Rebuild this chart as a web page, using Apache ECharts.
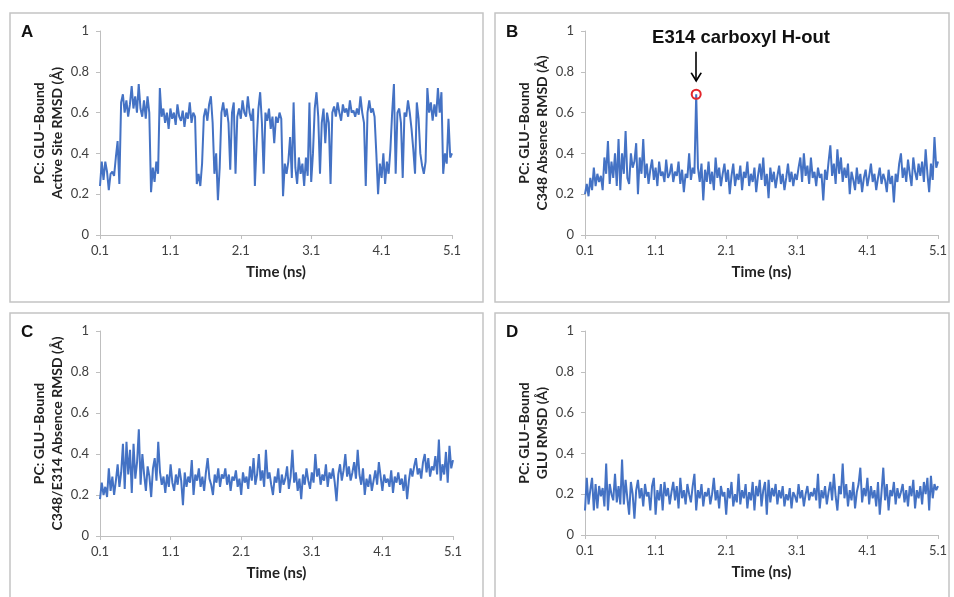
<!DOCTYPE html>
<html>
<head>
<meta charset="utf-8">
<script src="https://cdn.jsdelivr.net/npm/echarts@6/dist/echarts.min.js"></script>
<style>html,body{margin:0;padding:0;background:#fff}#c{width:954px;height:597px}</style>
</head>
<body>
<div id="c"></div>
<script>
// Time axis: 0.1 → 5.1 ns, sampled every 0.025 ns
const T_START = 0.1, T_STEP = 0.025;
const xTicks = [0.1, 1.1, 2.1, 3.1, 4.1, 5.1];
const yTicks = [0, 0.2, 0.4, 0.6, 0.8, 1];

const panelLetters = ['A', 'B', 'C', 'D'];
const yTitles = [
  'PC: GLU\u2013Bound\nActive Site RMSD (\u00C5)',
  'PC: GLU\u2013Bound\nC348 Absence RMSD (\u00C5)',
  'PC: GLU\u2013Bound\nC348/E314 Absence RMSD (\u00C5)',
  'PC: GLU\u2013Bound\nGLU RMSD (\u00C5)'
];
const xTitle = 'Time (ns)';

const rmsdA = [
 0.24,0.36,0.27,0.36,0.31,0.22,0.30,0.31,0.29,0.38,
 0.46,0.25,0.65,0.69,0.60,0.66,0.58,0.64,0.73,0.62,
 0.68,0.60,0.74,0.62,0.58,0.66,0.57,0.68,0.60,0.21,
 0.33,0.26,0.36,0.30,0.72,0.58,0.62,0.55,0.60,0.52,
 0.62,0.57,0.60,0.54,0.64,0.58,0.56,0.61,0.53,0.60,
 0.57,0.65,0.55,0.60,0.58,0.25,0.30,0.24,0.35,0.58,
 0.62,0.56,0.64,0.68,0.55,0.30,0.40,0.17,0.33,0.60,
 0.65,0.58,0.62,0.55,0.32,0.60,0.65,0.30,0.58,0.62,
 0.57,0.66,0.60,0.58,0.68,0.60,0.56,0.62,0.24,0.45,
 0.62,0.70,0.55,0.30,0.60,0.56,0.62,0.52,0.58,0.45,
 0.58,0.55,0.60,0.57,0.19,0.35,0.30,0.36,0.48,0.28,
 0.65,0.33,0.25,0.38,0.30,0.35,0.24,0.38,0.29,0.65,
 0.26,0.40,0.62,0.70,0.58,0.30,0.55,0.62,0.45,0.60,
 0.55,0.25,0.60,0.63,0.58,0.65,0.60,0.56,0.64,0.60,
 0.62,0.58,0.66,0.60,0.61,0.58,0.62,0.59,0.68,0.60,
 0.55,0.24,0.60,0.66,0.60,0.62,0.58,0.40,0.20,0.35,
 0.28,0.40,0.25,0.36,0.30,0.42,0.60,0.74,0.30,0.60,
 0.62,0.55,0.28,0.60,0.58,0.66,0.60,0.52,0.42,0.30,
 0.65,0.57,0.40,0.34,0.30,0.36,0.72,0.60,0.65,0.56,
 0.64,0.58,0.72,0.60,0.70,0.30,0.40,0.35,0.57,0.38,0.40
];
const rmsdB = [
 0.20,0.25,0.19,0.28,0.22,0.33,0.24,0.30,0.26,0.29,
 0.22,0.38,0.30,0.46,0.25,0.36,0.28,0.40,0.24,0.47,
 0.22,0.40,0.30,0.51,0.28,0.25,0.40,0.33,0.36,0.45,
 0.20,0.38,0.30,0.47,0.28,0.35,0.25,0.32,0.37,0.27,
 0.33,0.24,0.36,0.29,0.31,0.26,0.37,0.28,0.30,0.35,
 0.26,0.31,0.29,0.36,0.25,0.32,0.21,0.30,0.28,0.40,
 0.27,0.33,0.30,0.69,0.33,0.26,0.35,0.17,0.32,0.26,
 0.36,0.25,0.31,0.22,0.38,0.28,0.33,0.24,0.30,0.35,
 0.26,0.32,0.20,0.29,0.35,0.24,0.30,0.27,0.34,0.22,
 0.31,0.28,0.36,0.24,0.30,0.26,0.33,0.21,0.29,0.35,
 0.27,0.38,0.24,0.30,0.18,0.33,0.26,0.31,0.23,0.29,
 0.34,0.25,0.30,0.22,0.28,0.35,0.26,0.31,0.24,0.30,
 0.27,0.33,0.38,0.26,0.40,0.29,0.34,0.25,0.38,0.28,
 0.31,0.24,0.33,0.28,0.30,0.17,0.32,0.27,0.36,0.44,
 0.29,0.35,0.25,0.42,0.30,0.38,0.26,0.33,0.28,0.35,
 0.20,0.31,0.27,0.22,0.33,0.25,0.30,0.21,0.28,0.32,
 0.24,0.29,0.35,0.26,0.30,0.22,0.28,0.33,0.25,0.30,
 0.27,0.21,0.32,0.25,0.29,0.16,0.30,0.26,0.35,0.40,
 0.28,0.33,0.26,0.37,0.30,0.24,0.38,0.31,0.27,0.35,
 0.29,0.36,0.26,0.42,0.30,0.21,0.35,0.27,0.48,0.33,0.36
];
const rmsdC = [
 0.18,0.26,0.20,0.24,0.19,0.33,0.22,0.29,0.20,0.27,
 0.35,0.24,0.31,0.45,0.23,0.46,0.30,0.42,0.21,0.45,
 0.28,0.36,0.52,0.25,0.40,0.30,0.22,0.34,0.29,0.19,
 0.33,0.38,0.27,0.46,0.31,0.25,0.29,0.21,0.30,0.24,
 0.35,0.26,0.22,0.30,0.25,0.33,0.27,0.15,0.31,0.24,
 0.29,0.26,0.37,0.20,0.30,0.27,0.33,0.24,0.29,0.22,
 0.31,0.38,0.28,0.25,0.20,0.30,0.26,0.33,0.24,0.30,
 0.28,0.33,0.25,0.30,0.22,0.29,0.27,0.32,0.24,0.28,
 0.20,0.31,0.26,0.29,0.23,0.34,0.27,0.38,0.25,0.30,
 0.40,0.27,0.32,0.24,0.42,0.28,0.31,0.25,0.20,0.29,
 0.26,0.33,0.21,0.30,0.25,0.28,0.34,0.23,0.29,0.42,
 0.26,0.31,0.22,0.28,0.18,0.30,0.25,0.33,0.27,0.23,
 0.31,0.26,0.40,0.29,0.33,0.25,0.30,0.27,0.35,0.24,
 0.31,0.28,0.33,0.26,0.17,0.30,0.35,0.27,0.32,0.40,
 0.29,0.34,0.27,0.31,0.36,0.28,0.42,0.30,0.25,0.33,
 0.20,0.28,0.24,0.30,0.22,0.27,0.32,0.25,0.36,0.29,
 0.22,0.30,0.26,0.28,0.24,0.32,0.21,0.29,0.26,0.31,
 0.25,0.28,0.22,0.30,0.18,0.27,0.33,0.29,0.34,0.38,
 0.30,0.33,0.28,0.36,0.40,0.31,0.38,0.29,0.34,0.32,
 0.39,0.30,0.47,0.27,0.35,0.30,0.41,0.26,0.44,0.33,0.37
];
const rmsdD = [
 0.12,0.28,0.15,0.22,0.28,0.12,0.25,0.13,0.24,0.19,
 0.23,0.14,0.35,0.12,0.25,0.20,0.17,0.30,0.16,0.24,
 0.15,0.37,0.15,0.27,0.18,0.10,0.26,0.20,0.08,0.22,
 0.27,0.18,0.23,0.14,0.25,0.19,0.21,0.12,0.24,0.28,
 0.10,0.22,0.17,0.25,0.12,0.26,0.19,0.23,0.15,0.21,
 0.26,0.17,0.24,0.13,0.28,0.18,0.22,0.15,0.25,0.20,
 0.16,0.24,0.30,0.12,0.22,0.18,0.25,0.14,0.21,0.19,
 0.23,0.15,0.20,0.28,0.17,0.22,0.13,0.24,0.19,0.21,
 0.10,0.23,0.18,0.26,0.14,0.20,0.16,0.30,0.15,0.22,
 0.18,0.25,0.13,0.21,0.17,0.26,0.12,0.24,0.19,0.27,
 0.14,0.22,0.26,0.10,0.27,0.16,0.23,0.19,0.25,0.15,
 0.22,0.18,0.24,0.14,0.20,0.17,0.23,0.13,0.21,0.19,
 0.16,0.25,0.18,0.22,0.14,0.20,0.24,0.17,0.21,0.19,
 0.23,0.17,0.30,0.13,0.22,0.18,0.24,0.15,0.21,0.26,
 0.17,0.30,0.19,0.12,0.24,0.20,0.35,0.18,0.25,0.14,
 0.22,0.17,0.26,0.13,0.21,0.25,0.33,0.16,0.23,0.19,
 0.28,0.15,0.24,0.18,0.22,0.14,0.26,0.10,0.21,0.33,
 0.17,0.25,0.12,0.22,0.19,0.26,0.15,0.23,0.18,0.21,
 0.25,0.16,0.22,0.14,0.24,0.19,0.27,0.13,0.22,0.18,
 0.24,0.15,0.26,0.20,0.28,0.12,0.29,0.18,0.25,0.22,0.24
];

// Annotation (panel B)
const annotText = 'E314 carboxyl H-out';
const peakTime = 1.675, peakValue = 0.69;
const annotTextPos = [2.31, 0.964];
const arrowFrom = 0.898, arrowTo = 0.756;

const seriesValues = [rmsdA, rmsdB, rmsdC, rmsdD];
const toPairs = vals => vals.map((v, i) => [+(T_START + T_STEP * i).toFixed(3), v]);

const FONT = 'Lato, "Open Sans", sans-serif';
const LINE = '#4472C4';
const AXIS = '#bfbfbf';
const LABEL = '#404040';

const grids = [
  {left: 100, top: 31, width: 352, height: 204},
  {left: 585, top: 31, width: 353, height: 204},
  {left: 100, top: 331, width: 353, height: 205},
  {left: 585, top: 331, width: 353, height: 204}
];
const boxes = [
  {x: 10, y: 13, w: 473, h: 289},
  {x: 495, y: 13, w: 454, h: 289},
  {x: 10, y: 313, w: 473, h: 300},
  {x: 495, y: 313, w: 454, h: 300}
];
const letterPos = [[21, 24], [506, 24], [21, 324], [506, 324]];

const option = {
  animation: false,
  backgroundColor: '#fff',
  grid: grids.map(g => Object.assign({containLabel: false}, g)),
  xAxis: grids.map((g, k) => ({
    type: 'value', gridIndex: k, min: 0.1, max: 5.1,
    axisLine: {show: true, onZero: false, lineStyle: {color: AXIS, width: 1}},
    axisTick: {show: true, length: 4, lineStyle: {color: AXIS}, customValues: xTicks},
    axisLabel: {customValues: xTicks, color: LABEL, fontFamily: FONT, fontSize: 13, margin: 9,
      formatter: v => v.toFixed(1)},
    splitLine: {show: false},
    name: xTitle, nameLocation: 'middle', nameGap: 30,
    nameTextStyle: {fontFamily: FONT, fontWeight: 'bold', fontSize: 15, color: '#222'}
  })),
  yAxis: grids.map((g, k) => ({
    type: 'value', gridIndex: k, min: 0, max: 1,
    axisLine: {show: true, lineStyle: {color: AXIS, width: 1}},
    axisTick: {show: true, length: 4, lineStyle: {color: AXIS}, customValues: yTicks},
    axisLabel: {customValues: yTicks, color: LABEL, fontFamily: FONT, fontSize: 13, margin: 11,
      formatter: v => String(+v.toFixed(1))},
    splitLine: {show: false},
    name: yTitles[k], nameLocation: 'middle', nameRotate: 90, nameGap: 33,
    nameTextStyle: {fontFamily: FONT, fontWeight: 'bold', fontSize: 14, color: '#222', lineHeight: 18}
  })),
  series: seriesValues.map((vals, k) => {
    const s = {
      type: 'line', xAxisIndex: k, yAxisIndex: k, data: toPairs(vals),
      showSymbol: false, symbol: 'none',
      lineStyle: {color: LINE, width: 2}, itemStyle: {color: LINE}
    };
    if (k === 1) {
      s.markPoint = {
        silent: true, animation: false,
        data: [
          {coord: [peakTime, peakValue], symbol: 'circle', symbolSize: 9,
           itemStyle: {color: 'rgba(255,255,255,0)', borderColor: '#e3262b', borderWidth: 2},
           label: {show: false}},
          {coord: [peakTime, arrowTo], symbol: 'path://M0,0 L5,7 L10,0', symbolSize: [10, 8],
           symbolOffset: [0, -4], symbolKeepAspect: false,
           itemStyle: {color: 'rgba(0,0,0,0)', borderColor: '#000', borderWidth: 1.6},
           label: {show: false}},
          {coord: annotTextPos, symbol: 'circle', symbolSize: 1,
           itemStyle: {color: 'rgba(0,0,0,0)'},
           label: {show: true, position: 'inside', formatter: annotText,
             fontFamily: '"Liberation Sans", Arial, sans-serif', fontWeight: 'bold',
             fontSize: 18.5, color: '#111'}}
        ]
      };
      s.markLine = {
        silent: true, animation: false, symbol: ['none', 'none'],
        lineStyle: {color: '#000', width: 1.6, type: 'solid'}, label: {show: false},
        data: [[{coord: [peakTime, arrowFrom]}, {coord: [peakTime, arrowTo]}]]
      };
    }
    return s;
  }),
  graphic: [
    ...boxes.map(b => ({type: 'rect', shape: {x: b.x, y: b.y, width: b.w, height: b.h},
      style: {fill: 'none', stroke: '#c4c4c4', lineWidth: 1.5}, silent: true, z: -1})),
    ...panelLetters.map((L, k) => ({type: 'text', left: letterPos[k][0], top: letterPos[k][1],
      style: {text: L, font: 'bold 17px "Liberation Sans", Arial, sans-serif', fill: '#111'}}))
  ]
};

const chart = echarts.init(document.getElementById('c'), null, {renderer: 'canvas'});
chart.setOption(option);
</script>
</body>
</html>
